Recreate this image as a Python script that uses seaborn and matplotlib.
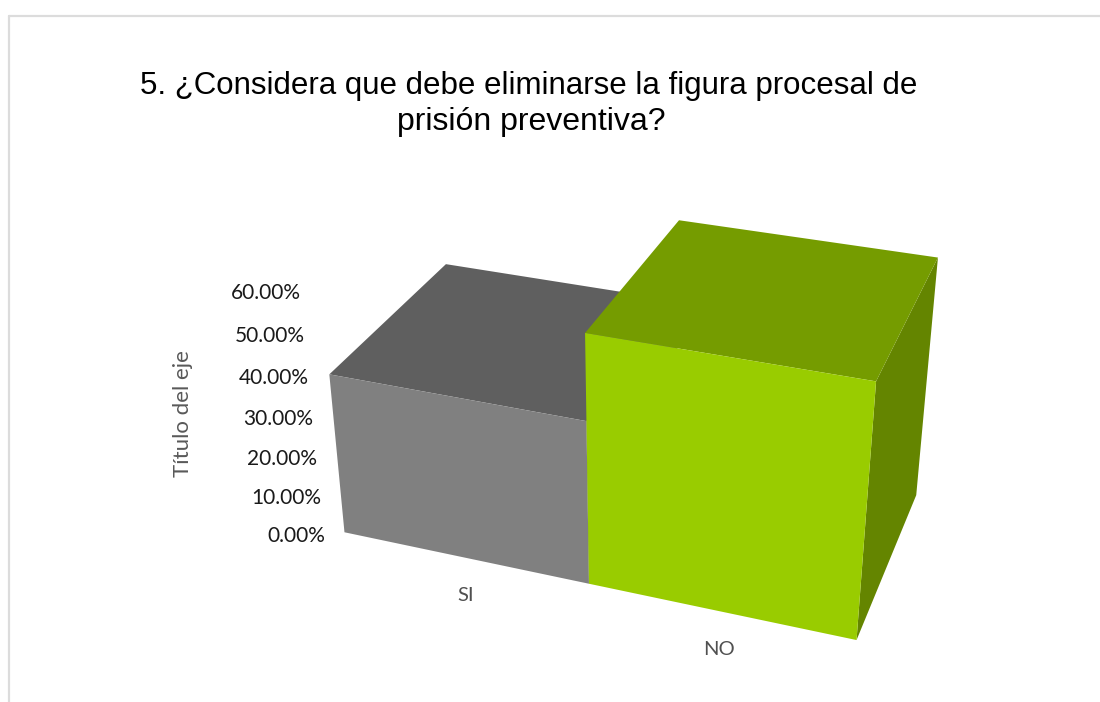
import matplotlib
matplotlib.use('Agg')
import matplotlib.pyplot as plt
from matplotlib.lines import Line2D
import seaborn as sns

categories = ['SI', 'NO']
values = [0.40, 0.60]
tick_values = [0.0, 0.1, 0.2, 0.3, 0.4, 0.5, 0.6]
tick_labels = ['0.00%', '10.00%', '20.00%', '30.00%', '40.00%', '50.00%', '60.00%']
title_lines = ['5. ¿Considera que debe eliminarse la figura procesal de', 'prisión preventiva?']
axis_title = 'Título del eje'

# front, top, right side of each bar
face_colors = {
    'SI': ['#808080', '#5f5f5f', '#666666'],
    'NO': ['#99cc00', '#759c00', '#648500'],
}
hidden = (1, 1, 1, 0)

sns.set_theme(style="white")
plt.rcParams['font.family'] = ['Lato', 'DejaVu Sans']

W, H = 1100, 702
fig = plt.figure(figsize=(W / 100, H / 100), dpi=100)
fig.patch.set_facecolor('white')

# view fitted against the corners of the boxes in the picture
ax = fig.add_axes([75.55 / W, -56.26 / H, 1, 1], projection='3d', computed_zorder=False)
ax.view_init(29.4286, -70.2489, 0.0094)
ax.set_proj_type('persp', focal_length=0.4712)
ax.set_box_aspect((1, 0.4984, 0.5155), zoom=0.9098)
ax.set_xlim(0, 2)
ax.set_ylim(0, 1)
ax.set_zlim(0, 0.6)
ax.set_axis_off()
ax.patch.set_alpha(0)

for i, (cat, val) in enumerate(zip(categories, values)):
    front, top, right = face_colors[cat]
    # order of faces: -z, +z, -y, +y, -x, +x
    ax.bar3d(i, 0, 0, 1, 1, val, color=[hidden, top, front, hidden, hidden, right],
             shade=False, edgecolor='none', linewidth=0, zorder=i + 1)
    ax.text(i + 0.5, 0, -0.1, cat, ha='center', va='center', fontsize=14.5, color='#505050', zorder=5)

for t, lab in zip(tick_values, tick_labels):
    ax.text(-0.055, -0.05, t, lab, ha='right', va='center', fontsize=15, color='#1a1a1a', zorder=5)

fig.text(183 / W, 1 - 414 / H, axis_title, rotation=90, ha='center', va='center',
         fontsize=16, color='#595959')
fig.text(529 / W, 1 - 86 / H, title_lines[0], ha='center', va='center', fontsize=22.5,
         color='black', family=['Liberation Sans', 'DejaVu Sans'])
fig.text(531 / W, 1 - 122 / H, title_lines[1], ha='center', va='center', fontsize=23,
         color='black', family=['Liberation Sans', 'DejaVu Sans'])

# outer frame of the pasted chart
frame = '#dcdcdc'
fig.add_artist(Line2D([9 / W, 1], [1 - 16 / H, 1 - 16 / H], color=frame, lw=1.6))
fig.add_artist(Line2D([9 / W, 9 / W], [0, 1 - 16 / H], color=frame, lw=1.6))

fig.savefig('out.png', dpi=100)
